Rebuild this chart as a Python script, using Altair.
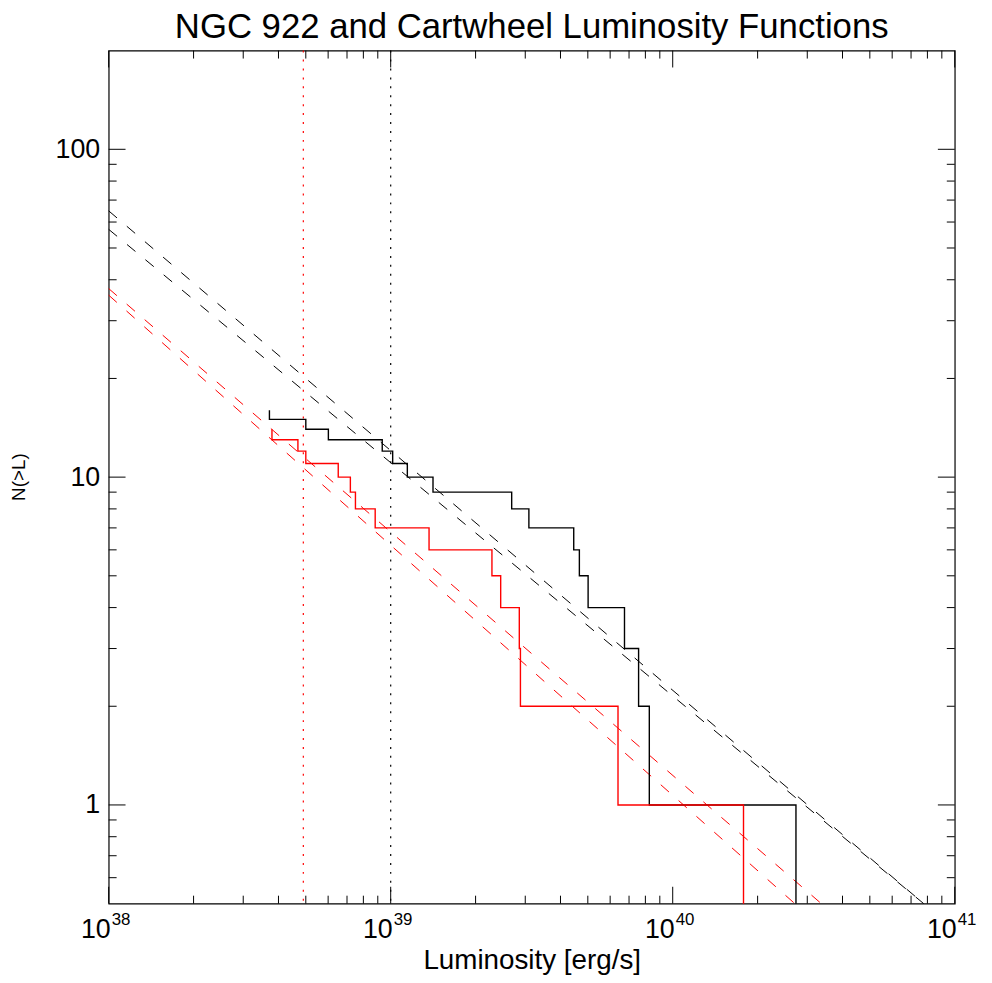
import altair as alt
import pandas as pd

FONT = "Liberation Sans"

# ---- data ----
TITLE = "NGC 922 and Cartwheel Luminosity Functions"
Y_TITLE = "N(>L)"

# log10 luminosities of the individual sources (sorted), from the step curves
black_logL = [38.570, 38.699, 38.779, 38.970, 39.007, 39.059, 39.150, 39.429,
              39.490, 39.649, 39.669, 39.700, 39.829, 39.879, 39.917, 40.437]
red_logL = [38.579, 38.671, 38.699, 38.814, 38.857, 38.875, 38.945, 39.136,
            39.359, 39.390, 39.456, 39.460, 39.806, 40.251]

# power-law fit lines: N at L=1e38 and log10 L where N falls to 0.5
fit_ids = ["k1", "k2", "r1", "r2"]
fit_color = ["black", "black", "red", "red"]
fit_N_start = [64.9, 57.0, 37.6, 35.9]
fit_logL_end = [40.890, 40.890, 40.527, 40.433]

# completeness limits (dotted verticals)
limit_L = [4.9e38, 1.0e39]
limit_color = ["red", "black"]

# axis ticks / labels
x_major = [1e38, 1e39, 1e40, 1e41]
x_exp = ["38", "39", "40", "41"]
x_minor = [k * 10.0 ** d for d in (38, 39, 40) for k in range(2, 10)]
y_major = [1, 10, 100]
y_minor = [0.6, 0.7, 0.8, 0.9] + [k * 10.0 ** d for d in (0, 1) for k in range(2, 10)]

L_MIN, L_MAX = 1e38, 1e41
N_MIN, N_MAX = 0.5, 200

W, H = 853, 860


def step_frame(logL, name):
    n = len(logL)
    rows = []
    for i, l in enumerate(logL):
        L = 10 ** l
        rows.append({"L": L, "N": n - i, "s": name, "o": 2 * i})
        lower = n - i - 1 if n - i - 1 > 0 else N_MIN
        rows.append({"L": L, "N": lower, "s": name, "o": 2 * i + 1})
    return pd.DataFrame(rows)


steps_black = step_frame(black_logL, "black")
steps_red = step_frame(red_logL, "red")

fit_rows = []
for fid, c, n0, le in zip(fit_ids, fit_color, fit_N_start, fit_logL_end):
    fit_rows.append({"L": L_MIN, "N": n0, "id": fid, "c": c, "o": 0})
    fit_rows.append({"L": 10 ** le, "N": N_MIN, "id": fid, "c": c, "o": 1})
fits = pd.DataFrame(fit_rows)

limits = pd.DataFrame({"L": limit_L, "c": limit_color})

xs = alt.Scale(type="log", domain=[L_MIN, L_MAX], nice=False)
ys = alt.Scale(type="log", domain=[N_MIN, N_MAX], nice=False)

xaxis = alt.Axis(labels=False, ticks=False, domain=False, grid=False,
                 title="Luminosity [erg/s]", titleFontSize=28,
                 titleFontWeight="normal", titleFont=FONT, titleColor="black",
                 titleX=W / 2, titleY=65, titleBaseline="alphabetic",
                 titleAlign="center")
yaxis = alt.Axis(values=y_major, format=".0f", ticks=False, domain=False,
                 grid=False, labelFontSize=27, labelFont=FONT,
                 labelColor="black", labelPadding=9, title=None)

X = alt.X("L:Q", scale=xs, axis=xaxis)
Y = alt.Y("N:Q", scale=ys, axis=yaxis)
color_scale = alt.Scale(domain=["black", "red"], range=["#000000", "#ff0000"])

step_b = alt.Chart(steps_black).mark_line(color="#000000", strokeWidth=1.4,
                                          interpolate="linear").encode(
    x=X, y=Y, order="o:Q")
step_r = alt.Chart(steps_red).mark_line(color="#ff0000", strokeWidth=1.4,
                                        interpolate="linear").encode(
    x=X, y=Y, order="o:Q")

fit_lines = alt.Chart(fits).mark_line(strokeWidth=1, strokeDash=[11, 13]).encode(
    x=X, y=Y, detail="id:N", order="o:Q",
    color=alt.Color("c:N", scale=color_scale, legend=None))

limit_lines = alt.Chart(limits).mark_rule(strokeWidth=1.2, strokeDash=[2, 7]).encode(
    x=X, color=alt.Color("c:N", scale=color_scale, legend=None))

xmaj = pd.DataFrame({"L": x_major, "e": x_exp})
xmin = pd.DataFrame({"L": x_minor})
ymaj = pd.DataFrame({"N": y_major})
ymin = pd.DataFrame({"N": y_minor})

MAJ, MIN = 17, 8
tick_layers = []
for df, ln in ((xmaj, MAJ), (xmin, MIN)):
    tick_layers.append(alt.Chart(df).mark_rule(color="black", strokeWidth=1).encode(
        x=X, y=alt.value(H), y2=alt.value(H - ln)))
    tick_layers.append(alt.Chart(df).mark_rule(color="black", strokeWidth=1).encode(
        x=X, y=alt.value(0), y2=alt.value(ln)))
for df, ln in ((ymaj, MAJ), (ymin, MIN)):
    tick_layers.append(alt.Chart(df).mark_rule(color="black", strokeWidth=1).encode(
        y=Y, x=alt.value(0), x2=alt.value(ln)))
    tick_layers.append(alt.Chart(df).mark_rule(color="black", strokeWidth=1).encode(
        y=Y, x=alt.value(W), x2=alt.value(W - ln)))

lab_base = alt.Chart(xmaj).mark_text(align="right", baseline="alphabetic", dx=2,
                                     fontSize=27, font=FONT, color="black").encode(
    x=X, y=alt.value(H + 35), text=alt.value("10"))
lab_exp = alt.Chart(xmaj).mark_text(align="left", baseline="alphabetic", dx=3,
                                    fontSize=17, font=FONT, color="black").encode(
    x=X, y=alt.value(H + 22), text="e:N")

title_df = pd.DataFrame({"t": [TITLE]})
title_mark = alt.Chart(title_df).mark_text(
    align="center", baseline="alphabetic", fontSize=35, font=FONT,
    color="black").encode(x=alt.value(W / 2), y=alt.value(-13), text="t:N")

ytitle_df = pd.DataFrame({"t": [Y_TITLE]})
ytitle_mark = alt.Chart(ytitle_df).mark_text(
    align="center", baseline="middle", fontSize=19, font=FONT, angle=270,
    color="black").encode(x=alt.value(-90), y=alt.value(H / 2), text="t:N")

chart = alt.layer(
    limit_lines, fit_lines, step_b, step_r, *tick_layers, lab_base, lab_exp,
    title_mark, ytitle_mark
).properties(
    width=W, height=H,
    autosize=alt.AutoSizeParams(type="none"),
    padding={"left": 101.5, "top": 39, "right": 29.5, "bottom": 70},
).configure(
    font=FONT, background="white"
).configure_view(
    stroke="#000000", strokeWidth=1.2
)

chart.save("out.html", embed_options={"renderer": "svg", "actions": False})
